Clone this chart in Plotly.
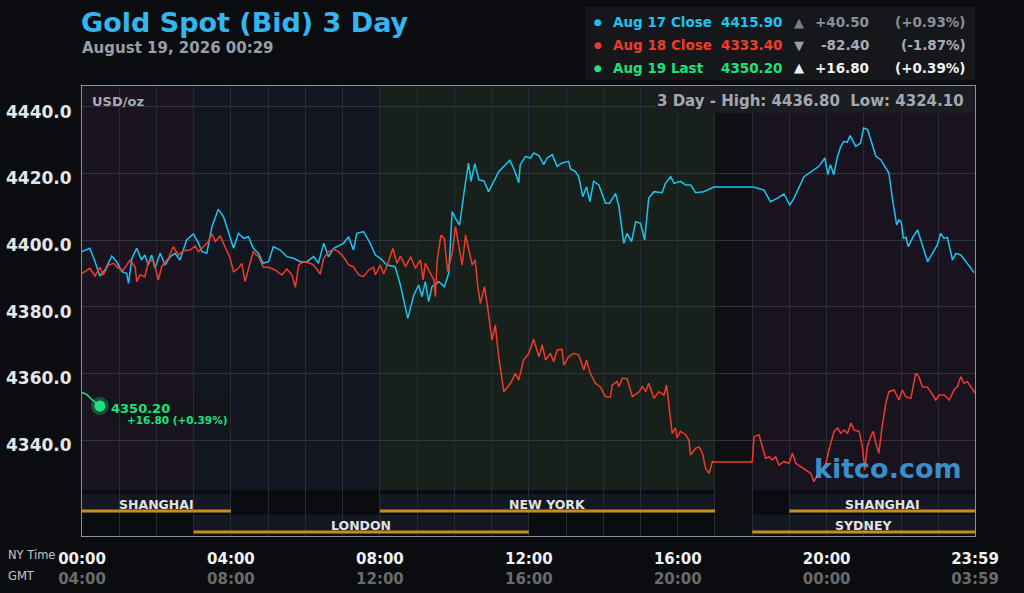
import plotly.graph_objects as go

# ---- data (hours NY time, price USD/oz) ----
blue_t = [0.00, 0.21, 0.35, 0.48, 0.62, 0.80, 0.93, 1.07, 1.20, 1.25, 1.34, 1.47, 1.60, 1.69, 1.78, 1.87,
          1.96, 2.10, 2.23, 2.37, 2.50, 2.63, 2.81, 2.99, 3.13, 3.22, 3.35, 3.49, 3.66, 3.80, 3.93, 4.07,
          4.20, 4.34, 4.47, 4.60, 4.74, 4.86, 5.01, 5.14, 5.32, 5.50, 5.68, 5.86, 6.04, 6.22, 6.35, 6.49,
          6.62, 6.76, 7.02, 7.16, 7.29, 7.38, 7.56, 7.74, 7.88, 8.01, 8.19, 8.41, 8.55, 8.75, 8.91, 9.04,
          9.13, 9.22, 9.31, 9.40, 9.58, 9.73, 9.85, 9.94, 10.03, 10.14, 10.27, 10.38, 10.45, 10.55, 10.66,
          10.79, 10.92, 11.06, 11.19, 11.49, 11.61, 11.73, 11.77, 11.91, 12.04, 12.13, 12.27, 12.40, 12.49,
          12.63, 12.76, 12.89, 13.07, 13.12, 13.25, 13.34, 13.45, 13.55, 13.64, 13.74, 13.88, 14.06, 14.17,
          14.33, 14.42, 14.55, 14.64, 14.76, 14.87, 15.00, 15.11, 15.22, 15.36, 15.58, 15.67, 15.81, 15.90,
          16.08, 16.21, 16.35, 16.48, 16.70, 16.97, 18.03, 18.18, 18.31, 18.49, 18.67, 18.85, 19.01, 19.12,
          19.25, 19.39, 19.52, 19.66, 19.79, 19.95, 20.03, 20.10, 20.19, 20.28, 20.38, 20.46, 20.55, 20.63,
          20.78, 20.91, 20.99, 21.10, 21.20, 21.32, 21.45, 21.54, 21.67, 21.77, 21.88, 21.94, 22.00, 22.06,
          22.13, 22.19, 22.31, 22.44, 22.53, 22.62, 22.71, 22.84, 22.97, 23.06, 23.15, 23.24, 23.38, 23.47,
          23.60, 23.74, 23.87, 23.96]
blue_p = [4396.5, 4397.5, 4393.5, 4389.2, 4391.0, 4395.2, 4393.5, 4390.5, 4390.0, 4387.0, 4394.5, 4397.5,
          4394.0, 4395.5, 4392.5, 4395.5, 4391.5, 4396.0, 4392.5, 4395.0, 4396.0, 4394.0, 4400.0, 4401.8,
          4399.0, 4396.5, 4396.0, 4404.0, 4409.2, 4407.0, 4402.5, 4397.5, 4402.0, 4400.5, 4401.0, 4397.5,
          4396.0, 4393.0, 4393.5, 4398.0, 4397.0, 4395.0, 4394.5, 4393.5, 4393.5, 4395.0, 4393.0, 4399.0,
          4395.0, 4397.5, 4399.0, 4401.0, 4397.0, 4402.0, 4402.5, 4399.0, 4395.5, 4394.5, 4392.5, 4392.0,
          4386.5, 4376.5, 4383.5, 4386.5, 4383.0, 4387.5, 4381.5, 4386.0, 4387.5, 4386.0, 4390.0, 4408.5,
          4406.5, 4404.5, 4415.0, 4423.1, 4417.6, 4422.9, 4418.0, 4417.8, 4414.5, 4417.6, 4420.5, 4423.9,
          4421.1, 4417.2, 4422.6, 4425.1, 4424.6, 4426.1, 4425.3, 4422.6, 4424.6, 4425.6, 4422.1, 4423.1,
          4423.6, 4421.3, 4420.5, 4419.0, 4413.0, 4416.0, 4411.5, 4417.6, 4416.5, 4411.0, 4411.0, 4414.0,
          4410.0, 4399.0, 4402.0, 4399.5, 4405.5, 4405.0, 4400.0, 4412.5, 4414.5, 4414.2, 4417.0, 4419.0,
          4417.0, 4417.6, 4416.5, 4416.5, 4414.2, 4414.5, 4415.9, 4415.9, 4415.5, 4415.0, 4411.5, 4412.5,
          4413.8, 4410.5, 4412.5, 4415.6, 4419.0, 4420.0, 4421.1, 4422.1, 4424.6, 4419.6, 4422.6, 4419.6,
          4424.6, 4428.1, 4429.6, 4429.3, 4431.3, 4428.1, 4429.1, 4433.6, 4433.1, 4429.1, 4425.1, 4424.1,
          4422.3, 4420.1, 4412.0, 4404.5, 4406.0, 4405.5, 4400.5, 4400.8, 4398.0, 4400.8, 4403.0, 4399.8,
          4397.0, 4393.5, 4396.0, 4398.5, 4402.0, 4400.5, 4400.8, 4394.0, 4396.0, 4395.5, 4393.5, 4391.5,
          4390.2]

red_t = [0.00, 0.21, 0.35, 0.48, 0.57, 0.71, 0.85, 0.98, 1.11, 1.20, 1.29, 1.43, 1.47, 1.56, 1.69, 1.78,
         1.92, 2.05, 2.14, 2.32, 2.45, 2.59, 2.72, 2.90, 3.04, 3.13, 3.26, 3.39, 3.49, 3.58, 3.71, 3.84,
         3.98, 4.07, 4.20, 4.29, 4.38, 4.51, 4.60, 4.74, 4.87, 5.01, 5.19, 5.37, 5.50, 5.64, 5.73, 5.82,
         5.95, 6.13, 6.22, 6.40, 6.49, 6.62, 6.76, 6.89, 7.02, 7.16, 7.29, 7.43, 7.56, 7.70, 7.83, 7.88,
         8.01, 8.10, 8.20, 8.35, 8.46, 8.55, 8.69, 8.83, 8.95, 9.09, 9.16, 9.22, 9.36, 9.45, 9.49, 9.54,
         9.64, 9.73, 9.82, 9.94, 10.03, 10.12, 10.21, 10.30, 10.42, 10.48, 10.56, 10.63, 10.70, 10.81,
         10.88, 11.01, 11.10, 11.19, 11.33, 11.51, 11.64, 11.73, 11.86, 12.00, 12.13, 12.27, 12.36, 12.45,
         12.58, 12.67, 12.76, 12.89, 12.94, 13.07, 13.21, 13.34, 13.48, 13.55, 13.65, 13.79, 13.92, 14.06,
         14.19, 14.24, 14.37, 14.42, 14.51, 14.64, 14.78, 14.96, 15.05, 15.14, 15.22, 15.36, 15.49, 15.63,
         15.70, 15.76, 15.85, 15.94, 15.98, 16.07, 16.21, 16.30, 16.34, 16.48, 16.57, 16.66, 16.75, 16.84,
         16.93, 16.97, 18.00, 18.05, 18.18, 18.27, 18.36, 18.45, 18.54, 18.63, 18.72, 18.85, 18.99, 19.08,
         19.17, 19.30, 19.44, 19.57, 19.66, 19.75, 19.84, 19.97, 20.06, 20.20, 20.29, 20.38, 20.47, 20.56,
         20.65, 20.74, 20.87, 20.96, 21.02, 21.09, 21.18, 21.25, 21.32, 21.40, 21.49, 21.59, 21.67, 21.81,
         21.94, 22.03, 22.12, 22.26, 22.39, 22.48, 22.57, 22.70, 22.79, 22.93, 23.02, 23.16, 23.29, 23.42,
         23.51, 23.60, 23.69, 23.78, 23.87, 23.98]
red_p = [4390.0, 4391.5, 4389.2, 4391.8, 4389.5, 4392.5, 4393.0, 4391.5, 4391.0, 4392.5, 4394.0, 4391.8,
         4387.5, 4389.5, 4389.0, 4393.5, 4394.0, 4388.0, 4392.0, 4394.5, 4398.0, 4395.5, 4396.8, 4397.0,
         4398.2, 4396.5, 4398.0, 4399.5, 4401.8, 4399.5, 4401.2, 4398.0, 4394.5, 4390.5, 4391.5, 4393.0,
         4387.5, 4393.0, 4396.5, 4395.0, 4391.8, 4391.8, 4391.0, 4389.5, 4391.3, 4389.5, 4385.8, 4392.5,
         4393.5, 4393.0, 4392.5, 4389.8, 4394.5, 4396.5, 4397.2, 4396.5, 4395.0, 4392.5, 4392.0, 4389.5,
         4389.0, 4391.0, 4391.8, 4389.5, 4392.5, 4389.8, 4392.5, 4397.5, 4393.0, 4395.2, 4392.0, 4395.0,
         4391.5, 4394.0, 4388.0, 4393.0, 4390.0, 4388.0, 4383.0, 4394.0, 4401.5, 4400.5, 4390.5, 4396.0,
         4404.0, 4398.0, 4392.5, 4401.5, 4396.0, 4392.5, 4394.0, 4386.0, 4381.0, 4386.0, 4381.0, 4370.0,
         4374.5, 4365.0, 4354.5, 4357.0, 4360.0, 4358.0, 4364.0, 4366.0, 4370.2, 4365.0, 4368.5, 4364.0,
         4366.0, 4363.5, 4367.0, 4367.2, 4362.5, 4365.0, 4366.0, 4365.5, 4361.0, 4364.0, 4360.0, 4357.0,
         4355.9, 4353.0, 4352.9, 4356.5, 4357.5, 4356.0, 4358.5, 4358.4, 4353.0, 4354.4, 4356.0, 4354.5,
         4357.0, 4352.5, 4354.5, 4353.5, 4356.5, 4350.0, 4342.0, 4343.6, 4340.6, 4342.6, 4341.6, 4340.0,
         4335.5, 4337.5, 4338.0, 4336.1, 4331.5, 4330.0, 4333.5, 4333.4, 4333.4, 4341.0, 4341.6, 4338.0,
         4334.5, 4335.0, 4334.0, 4335.0, 4332.5, 4333.5, 4333.0, 4336.0, 4333.0, 4332.0, 4331.0, 4330.0,
         4327.5, 4329.5, 4330.0, 4332.5, 4337.0, 4342.6, 4343.6, 4342.0, 4343.0, 4342.0, 4345.1, 4343.0,
         4342.6, 4338.0, 4331.0, 4338.0, 4341.0, 4342.6, 4339.0, 4336.0, 4344.1, 4351.1, 4354.5, 4355.0,
         4352.0, 4355.0, 4353.0, 4352.5, 4360.0, 4358.9, 4355.9, 4355.9, 4354.5, 4352.0, 4353.5, 4353.5,
         4352.0, 4355.0, 4356.0, 4359.0, 4357.0, 4357.5, 4356.0, 4354.1]

green_t = [0.00, 0.13, 0.27, 0.40, 0.48]
green_p = [4354.3, 4353.6, 4352.1, 4350.8, 4350.2]

# shaded market periods behind the price area (start hour, end hour, colour)
bg_start = [0, 3, 8, 17, 18]
bg_end = [3, 8, 17, 18, 23.983]
bg_color = ['#1a1320', '#111621', '#17201a', '#0e1013', '#191320']

# exchange sessions in the bottom strip
sess_name = ['SHANGHAI', 'NEW YORK', 'SHANGHAI', 'LONDON', 'SYDNEY']
sess_start = [0, 8, 19, 3, 18]
sess_end = [4, 17, 23.983, 12, 23.983]
sess_row = [0, 0, 0, 1, 1]

x_ticks = [0, 4, 8, 12, 16, 20, 23.983]
ny_labels = ['00:00', '04:00', '08:00', '12:00', '16:00', '20:00', '23:59']
gmt_labels = ['04:00', '08:00', '12:00', '16:00', '20:00', '00:00', '03:59']
y_ticks = [4340, 4360, 4380, 4400, 4420, 4440]

BLUE = '#1cc4ee'
RED = '#f03b2b'
GREEN = '#1ee07c'
FONT = 'DejaVu Sans'

fig = go.Figure()

fig.add_trace(go.Scatter(x=blue_t, y=blue_p, mode='lines', line=dict(color=BLUE, width=1.5),
                         hoverinfo='skip'))
fig.add_trace(go.Scatter(x=red_t, y=red_p, mode='lines', line=dict(color=RED, width=1.5),
                         hoverinfo='skip'))
fig.add_trace(go.Scatter(x=green_t, y=green_p, mode='lines', line=dict(color=GREEN, width=1.5),
                         hoverinfo='skip'))
# glowing last-price dot
fig.add_trace(go.Scatter(x=green_t[-1:], y=green_p[-1:], mode='markers',
                         marker=dict(color=GREEN, size=18, opacity=0.3, line=dict(width=0))))
fig.add_trace(go.Scatter(x=green_t[-1:], y=green_p[-1:], mode='markers',
                         marker=dict(color=GREEN, size=11, line=dict(width=0))))

shapes = []
price_bottom = 46 / 450.0
for s, e, c in zip(bg_start, bg_end, bg_color):
    y0 = 0 if c == '#0e1013' else price_bottom
    shapes.append(dict(type='rect', xref='x', yref='paper', x0=s, x1=e, y0=y0, y1=1,
                       fillcolor=c, line=dict(width=0), layer='below'))

# session strip
row_y = [(23 / 450.0, 42 / 450.0), (2 / 450.0, 21 / 450.0)]
for name, s, e, r in zip(sess_name, sess_start, sess_end, sess_row):
    y0, y1 = row_y[r]
    shapes.append(dict(type='rect', xref='x', yref='paper', x0=s, x1=e, y0=y0, y1=y1,
                       fillcolor='#141822', line=dict(width=0), layer='below'))
    shapes.append(dict(type='rect', xref='x', yref='paper', x0=s, x1=e, y0=y0 + 0.5 / 450, y1=y0 + 3.5 / 450,
                       fillcolor='#c98a1e', line=dict(width=0), layer='above'))

# legend panel + high/low box + marker label box
shapes.append(dict(type='rect', xref='paper', yref='paper', x0=0.5633, x1=1.0, y0=1.0133, y1=1.1756,
                   fillcolor='#15171b', line=dict(width=0)))
shapes.append(dict(type='rect', xref='paper', yref='paper', x0=0.6428, x1=0.999, y0=0.94, y1=0.999,
                   fillcolor='#1b1d21', line=dict(width=0), layer='above'))
shapes.append(dict(type='rect', xref='paper', yref='paper', x0=0.028, x1=0.1657, y0=0.2489, y1=0.3067,
                   fillcolor='#131519', line=dict(width=0), layer='below'))
fig.update_layout(shapes=shapes)

ann = []


def add_text(txt, x, y, size, color, anchor='left', bold=True, yanchor='middle'):
    if bold:
        txt = '<b>' + txt + '</b>'
    ann.append(dict(text=txt, x=x, y=y, xref='paper', yref='paper', xanchor=anchor, yanchor=yanchor,
                    showarrow=False, font=dict(family=FONT, size=size, color=color)))


add_text('Gold Spot (Bid) 3 Day', -0.0035, 1.142, 27, '#33b5f0')
add_text('August 19, 2026 00:29', -0.0025, 1.084, 15, '#9a9ea6')

rows = [
    ('Aug 17 Close', '4415.90', '▲', '+40.50', '(+0.93%)', BLUE, '#7a7e86', '#8a8e96'),
    ('Aug 18 Close', '4333.40', '▼', '-82.40', '(-1.87%)', RED, '#9a9ea4', '#a8acb2'),
    ('Aug 19 Last', '4350.20', '▲', '+16.80', '(+0.39%)', GREEN, '#f0f0f0', '#f0f0f0'),
]
row_ys = [1.142, 1.091, 1.04]
for (lab, val, arr, chg, pct, col, acol, ccol), yy in zip(rows, row_ys):
    add_text('●', 0.5778, yy, 9, col, anchor='center', bold=False)
    add_text(lab, 0.5925, yy, 13.5, col)
    add_text(val, 0.787, yy, 13.5, col, anchor='right')
    add_text(arr, 0.8029, yy, 13, acol, anchor='center', bold=False)
    add_text(chg, 0.883, yy, 13.5, ccol, anchor='right')
    add_text(pct, 0.992, yy, 13.5, ccol, anchor='right')

add_text('3 Day - High: 4436.80  Low: 4324.10', 0.990, 0.966, 15, '#a4a8b0', anchor='right')
add_text('USD/oz', 0.0085, 0.966, 13, '#a8acb4')
add_text('4350.20', 0.0300, 0.2844, 13, GREEN)
add_text('+16.80 (+0.39%)', 0.1655, 0.2578, 10.5, GREEN, anchor='right')

for name, s, e, r in zip(sess_name, sess_start, sess_end, sess_row):
    y0, y1 = row_y[r]
    ann.append(dict(text='<b>' + name + '</b>', x=(s + e) / 2.0, y=y0 + 8.5 / 450,
                    xref='x', yref='paper', xanchor='center', yanchor='middle', showarrow=False,
                    font=dict(family=FONT, size=12.5, color='#e2e2e2')))

add_text('kitco.com', 0.988, 0.151, 27, '#3d9ad8', anchor='right')
ann[-1]['opacity'] = 0.92
add_text('NY Time', -0.0852, -0.042, 11.5, '#c4c4c4', bold=False)
add_text('GMT', -0.0852, -0.089, 11.5, '#c4c4c4', bold=False)
fig.update_layout(annotations=ann)

tick_text = ['<b>%s</b><br><b><span style="color:#6b6b6b">%s</span></b>' % (a, b)
             for a, b in zip(ny_labels, gmt_labels)]

fig.update_layout(
    template='none',
    width=1024, height=593,
    margin=dict(l=82, r=49, t=86, b=57),
    paper_bgcolor='#0b0c10', plot_bgcolor='#0b0c10',
    showlegend=False,
    hovermode=False,
    xaxis=dict(range=[0, 23.983], tickvals=x_ticks, ticktext=tick_text, showgrid=True,
               gridcolor='#272b33', gridwidth=1, zeroline=False,
               showline=True, linecolor='#8a92a2', linewidth=1, mirror=True,
               minor=dict(dtick=1, tick0=0, showgrid=True, gridcolor='#272b33', gridwidth=1),
               ticks='', ticklabelstandoff=9,
               tickfont=dict(family=FONT, size=15, color='#f2f2f2')),
    yaxis=dict(range=[4311.2, 4446.2], tickvals=y_ticks, ticktext=['<b>%.1f</b>' % v for v in y_ticks],
               showgrid=True, gridcolor='#30343c', gridwidth=1, zeroline=False,
               showline=True, linecolor='#8a92a2', linewidth=1, mirror=True,
               ticks='', ticklabelstandoff=6, ticklabelshift=5,
               tickfont=dict(family=FONT, size=17, color='#e6e6e6')),
)

fig.write_html("out.html", config={'displayModeBar': False},
               post_script="document.body.style.margin='0px';")
